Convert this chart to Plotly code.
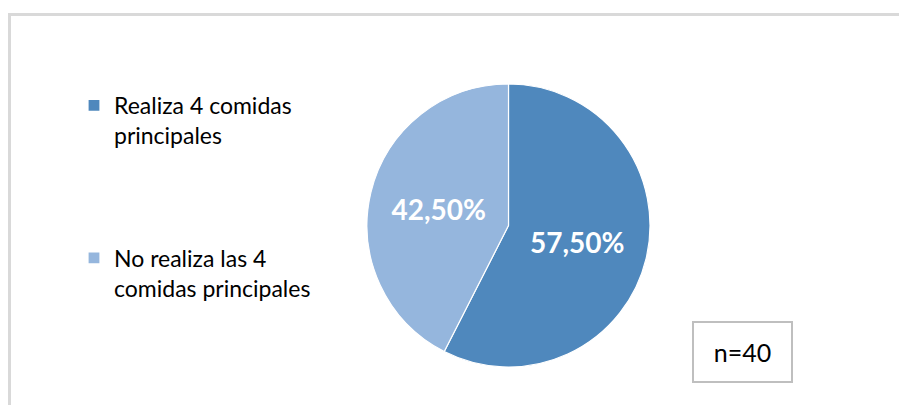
import plotly.graph_objects as go

# Survey result: share of respondents that eat the 4 main meals
categorias = [
    "Realiza 4 comidas<br>principales<br> <br> <br> ",
    "No realiza las 4<br>comidas principales",
]
porcentajes = [57.5, 42.5]
etiquetas = ["57,50%", "42,50%"]
colores = ["#4F88BD", "#95B6DD"]
muestra = "n=40"

W, H = 899, 405

fig = go.Figure()
fig.add_trace(go.Pie(
    labels=categorias,
    values=porcentajes,
    text=etiquetas,
    textinfo="text",
    textposition="inside",
    insidetextorientation="horizontal",
    textfont=dict(family="Lato", size=28, color="white", weight="bold"),
    marker=dict(colors=colores, line=dict(color="white", width=1.2)),
    sort=False,
    direction="clockwise",
    rotation=0,
    domain=dict(x=[367 / W, 650 / W], y=[1 - 367 / H, 1 - 84 / H]),
    hoverinfo="skip",
))

fig.update_layout(
    width=W,
    height=H,
    margin=dict(l=0, r=0, t=0, b=0),
    paper_bgcolor="white",
    plot_bgcolor="white",
    showlegend=True,
    legend=dict(
        x=74 / W,
        y=1 - 84 / H,
        xanchor="left",
        yanchor="top",
        valign="top",
        font=dict(family="Lato", size=23, color="#000000"),
        bgcolor="rgba(0,0,0,0)",
    ),
    shapes=[
        dict(
            type="rect", xref="paper", yref="paper",
            x0=9.5 / W, x1=1.2, y0=-0.2, y1=1 - 14.5 / H,
            line=dict(color="#D9D9D9", width=3),
            fillcolor="rgba(0,0,0,0)",
            layer="below",
        )
    ],
    annotations=[
        dict(
            text=muestra,
            xref="paper", yref="paper",
            x=742.5 / W, y=1 - 352 / H,
            xanchor="center", yanchor="middle",
            showarrow=False,
            font=dict(family="Lato", size=25, color="#000000"),
            bordercolor="#BFBFBF",
            borderwidth=2,
            borderpad=0,
            width=97,
            height=58,
            bgcolor="white",
        )
    ],
)

fig.write_html("out.html")
